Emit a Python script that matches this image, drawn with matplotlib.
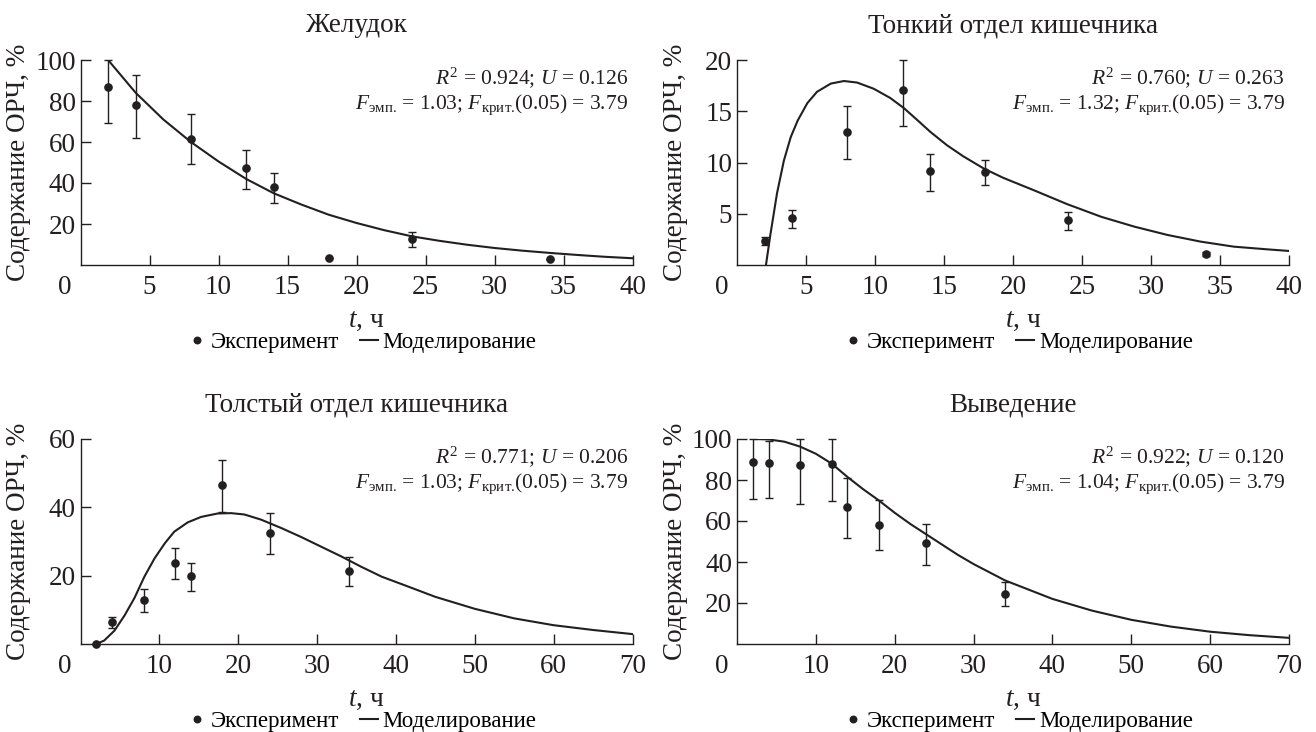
import matplotlib
matplotlib.use('Agg')
import matplotlib.pyplot as plt
import numpy as np

plt.rcParams['font.family'] = ['Liberation Serif', 'DejaVu Serif']
plt.rcParams['mathtext.fontset'] = 'custom'
plt.rcParams['mathtext.rm'] = 'Liberation Serif'
plt.rcParams['mathtext.it'] = 'Liberation Serif:italic'

ink = '#231f20'

# Желудок
stomach_t = [2, 4, 8, 12, 14, 18, 24, 34]
stomach_y = [87, 78, 61.5, 47.5, 38, 3.5, 12.7, 3]
stomach_lo = [17.8, 16.1, 12.4, 10.2, 7.7, 0, 4.0, 0]
stomach_hi = [13, 14.8, 12.1, 8.6, 6.8, 0, 3.3, 0]
stomach_mt = [2, 3, 4, 5, 6, 7, 8, 10, 12, 14, 16, 18, 20, 22, 24, 26, 28, 30, 32, 34, 36, 38, 40]
stomach_my = [100, 92, 84, 77.5, 71, 65.5, 60, 50.5, 42, 35, 29.5, 24.5, 20.5, 17, 14,
              11.8, 9.9, 8.3, 7, 5.9, 4.9, 4, 3.3]

# Тонкий отдел кишечника
small_t = [2, 4, 8, 12, 14, 18, 24, 34]
small_y = [2.37, 4.55, 13.0, 17.1, 9.17, 9.1, 4.39, 1.07]
small_lo = [0.42, 0.97, 2.7, 3.5, 1.92, 1.26, 0.98, 0.15]
small_hi = [0.39, 0.82, 2.5, 2.9, 1.69, 1.14, 0.81, 0.15]
small_mt = [2.1, 2.4, 2.9, 3.4, 3.9, 4.4, 5.1, 5.8, 6.8, 7.75, 8.7, 9.9, 11.1, 12.1, 13.1,
            14.0, 15.2, 16.4, 17.9, 19.3, 21.5, 23.9, 26.4, 28.8, 31.2, 33.6, 36, 38.4, 40]
small_my = [0, 2.8, 7, 10.2, 12.5, 14.1, 15.8, 16.9, 17.7, 17.95, 17.8, 17.2, 16.3, 15.3, 14.1,
            13.0, 11.7, 10.6, 9.4, 8.5, 7.3, 5.95, 4.7, 3.74, 2.93, 2.28, 1.79, 1.53, 1.37]

# Толстый отдел кишечника
large_t = [2, 4, 8, 12, 14, 18, 24, 34]
large_y = [0, 6.4, 13, 23.8, 19.9, 46.4, 32.6, 21.4]
large_lo = [0, 1.7, 3.5, 4.8, 4.4, 7.9, 6.3, 4.3]
large_hi = [0, 1.5, 3.1, 4.4, 3.9, 7.4, 5.6, 4.2]
large_mt = [2, 3, 4.3, 5.6, 6.85, 8.1, 9.4, 10.7, 11.9, 13.6, 15.3, 17.4, 19.1, 20.8, 22.9,
            25.5, 28, 30.5, 33.1, 35.6, 38.2, 41.1, 45, 50, 55, 60, 65, 70]
large_my = [0, 1, 3.9, 8.4, 13.5, 19.7, 25.1, 29.5, 32.9, 35.6, 37.2, 38.2, 38.3, 37.9, 36.4,
            33.9, 31.3, 28.5, 25.6, 22.6, 19.7, 17.2, 13.8, 10.3, 7.5, 5.5, 4.1, 2.9]

# Выведение
excr_t = [2, 4, 8, 12, 14, 18, 24, 34]
excr_y = [89, 88.5, 87.4, 88, 66.9, 57.9, 49.2, 24.6]
excr_lo = [18.5, 17.2, 18.9, 18, 15.3, 12, 10.5, 6.1]
excr_hi = [11, 10.7, 12.6, 12, 14.2, 12.3, 9.3, 5.7]
excr_mt = [2, 4, 6, 8, 10, 12, 14, 16, 18, 20, 22, 24, 26, 28, 30, 32, 34, 36, 38, 40,
           45, 50, 55, 60, 65, 70]
excr_my = [100, 99.8, 98.7, 96.3, 92.8, 88, 81.5, 75.5, 70, 64, 58.5, 53.5, 48.5, 43.5, 39,
           35, 31, 28, 25, 22, 16.3, 11.8, 8.5, 6, 4.3, 3]

titles = ['Желудок', 'Тонкий отдел кишечника', 'Толстый отдел кишечника', 'Выведение']
stats = [('0.924', '0.126', '1.03'), ('0.760', '0.263', '1.32'),
         ('0.771', '0.206', '1.03'), ('0.922', '0.120', '1.04')]


def panel(ax, title, t, y, lo, hi, mt, my, xmax, xstep, ymax, ystep, st):
    ax.errorbar(t, y, yerr=[lo, hi], fmt='none', ecolor=ink, elinewidth=1.0,
                capsize=2.6, capthick=1.0, clip_on=False)
    ax.plot(t, y, 'o', color=ink, ms=5.2, clip_on=False, label='Эксперимент', zorder=4)
    ax.plot(mt, my, '-', color=ink, lw=1.5, label='Моделирование')
    ax.set_xlim(0, xmax)
    ax.set_ylim(0, ymax)
    ax.set_xticks(np.arange(xstep, xmax + 0.1, xstep))
    ax.set_yticks(np.arange(ystep, ymax + 0.1, ystep))
    for s in ['top', 'right']:
        ax.spines[s].set_visible(False)
    for s in ['left', 'bottom']:
        ax.spines[s].set_linewidth(1.0)
        ax.spines[s].set_color(ink)
    ax.tick_params(direction='in', length=7, width=1.0, colors=ink, labelsize=19.5)
    ax.tick_params(axis='x', pad=7)
    ax.tick_params(axis='y', pad=3.5)
    # the shared origin label sits at the corner, left of the spine
    ax.annotate('0', xy=(0, 0), xycoords='axes fraction', xytext=(-11, -7),
                textcoords='offset points', ha='center', va='top', fontsize=19.5, color=ink)
    ax.set_title(title, fontsize=19.5, pad=20, color=ink)
    ax.set_ylabel('Содержание ОРЧ, %', fontsize=19.5, color=ink)
    ax.yaxis.set_label_coords(-0.089, 0.5)
    ax.set_xlabel('$t$, ч', fontsize=19.5, color=ink)
    ax.xaxis.label.set_va('center')
    ax.xaxis.set_label_coords(0.518, -0.27)
    r2, u, f = st
    ax.text(0.992, 0.912, '$R^2$ = %s; $U$ = %s' % (r2, u), transform=ax.transAxes,
            ha='right', va='center', fontsize=15.5, color=ink)
    ax.text(0.992, 0.783,
            r'$F_{\mathrm{эмп.}}\!$ = %s; $F_{\mathrm{крит.}}\!$(0.05) = 3.79' % f,
            transform=ax.transAxes, ha='right', va='center', fontsize=15.5, color=ink)
    ax.legend(loc='center', bbox_to_anchor=(0.51, -0.38), ncol=2, frameon=False,
              fontsize=16.5, handlelength=0.8, handletextpad=0.2, columnspacing=0.9,
              borderpad=0, markerscale=0.9)


fig = plt.figure(figsize=(13.16, 7.32), dpi=100)
w, h = 552 / 1316, 205 / 732
ax1 = fig.add_axes([80.5 / 1316, 1 - 265 / 732, w, h])
ax2 = fig.add_axes([737 / 1316, 1 - 265 / 732, w, h])
ax3 = fig.add_axes([80.5 / 1316, 1 - 644 / 732, w, h])
ax4 = fig.add_axes([737 / 1316, 1 - 644 / 732, w, h])

panel(ax1, titles[0], stomach_t, stomach_y, stomach_lo, stomach_hi, stomach_mt, stomach_my,
      40, 5, 100, 20, stats[0])
panel(ax2, titles[1], small_t, small_y, small_lo, small_hi, small_mt, small_my,
      40, 5, 20, 5, stats[1])
panel(ax3, titles[2], large_t, large_y, large_lo, large_hi, large_mt, large_my,
      70, 10, 60, 20, stats[2])
panel(ax4, titles[3], excr_t, excr_y, excr_lo, excr_hi, excr_mt, excr_my,
      70, 10, 100, 20, stats[3])

fig.savefig('out.png', dpi=100)
